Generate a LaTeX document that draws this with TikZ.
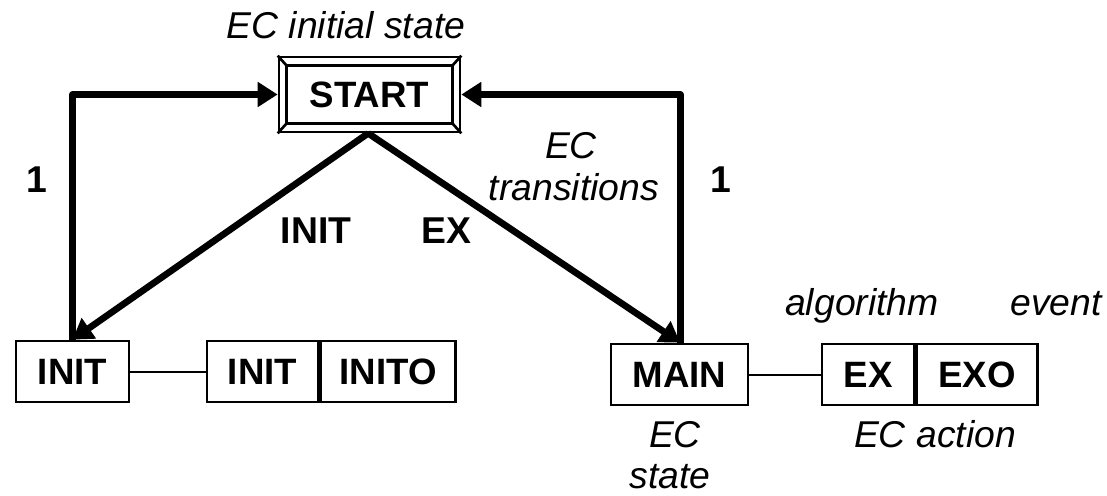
\documentclass[tikz,border=0pt]{standalone}
\usepackage{fontspec}
\setmainfont{Liberation Sans}
\usetikzlibrary{arrows.meta,calc}
\begin{document}
\begin{tikzpicture}[x=0.75pt,y=-0.75pt,
  font=\fontsize{27.5}{30}\selectfont,
  cell/.style={draw,line width=2pt,inner sep=0pt,minimum height=45.75pt,font=\fontsize{27.5}{30}\selectfont\bfseries},
  flow/.style={line width=5pt,line join=round,-{Triangle[length=15pt,width=18pt]}},
  link/.style={line width=1.5pt},
  note/.style={font=\fontsize{28}{30}\selectfont\itshape,anchor=base,inner sep=0pt},
  tag/.style={font=\fontsize{28}{30}\selectfont\bfseries,anchor=base,inner sep=0pt}]
\useasboundingbox (0,0) rectangle (1107,496);

% initial state with bevelled double frame
\node[draw,line width=2pt,minimum width=135.75pt,minimum height=56.25pt,inner sep=0pt,font=\fontsize{27.5}{30}\selectfont\bfseries] (start) at (369.5,94.5) {START};
\draw[line width=2pt] ($(start.north west)+(9,10)$) coordinate (iNW) rectangle ($(start.south east)+(-9,-10)$) coordinate (iSE);
\draw[line width=2pt] (start.north west) -- (iNW)
  (start.south east) -- (iSE)
  (start.north east) -- (iSE |- iNW)
  (start.south west) -- (iNW |- iSE);

% states and actions
\node[cell,minimum width=84.75pt] (init) at (72.5,371.5) {INIT};
\node[cell,minimum width=83.25pt] (initA) at (262.5,371.5) {INIT};
\node[cell,minimum width=101.25pt,anchor=west] (initE) at (initA.east) {INITO};
\node[cell,minimum width=102.75pt] (main) at (679.5,374.5) {MAIN};
\node[cell,minimum width=69pt] (exA) at (868,374.5) {EX};
\node[cell,minimum width=90.75pt,anchor=west] (exE) at (exA.east) {EXO};

\draw[link] (init.east) -- (initA.west);
\draw[link] (main.east) -- (exA.west);

% transitions
\draw[flow] (init.north) |- (start.west);
\draw[flow] ([xshift=0.5pt]main.north) |- (start.east);
\draw[flow] ([xshift=-1pt]start.south) -- (init.north);
\draw[flow] ([xshift=-1pt]start.south) -- ([xshift=0.5pt]main.north);

% labels
\node[note] (lInit) at (346,38) {EC initial state};
\node[tag] (one1) at (37,192) {1};
\node[tag] (one2) at (721,192) {1};
\node[tag] (tInit) at (316,243) {INIT};
\node[tag] (tEx) at (446,243) {EX};
\node[note] (lTransA) at (571,158) {EC};
\node[note] (lTransB) at (574,200) {transitions};
\node[note] (lAlg) at (862,315) {algorithm};
\node[note] (lEvt) at (1056,315) {event};
\node[note] (lStateA) at (675,447) {EC};
\node[note] (lStateB) at (670,488) {state};
\node[note] (lAct) at (935,447) {EC action};
\end{tikzpicture}
\end{document}
